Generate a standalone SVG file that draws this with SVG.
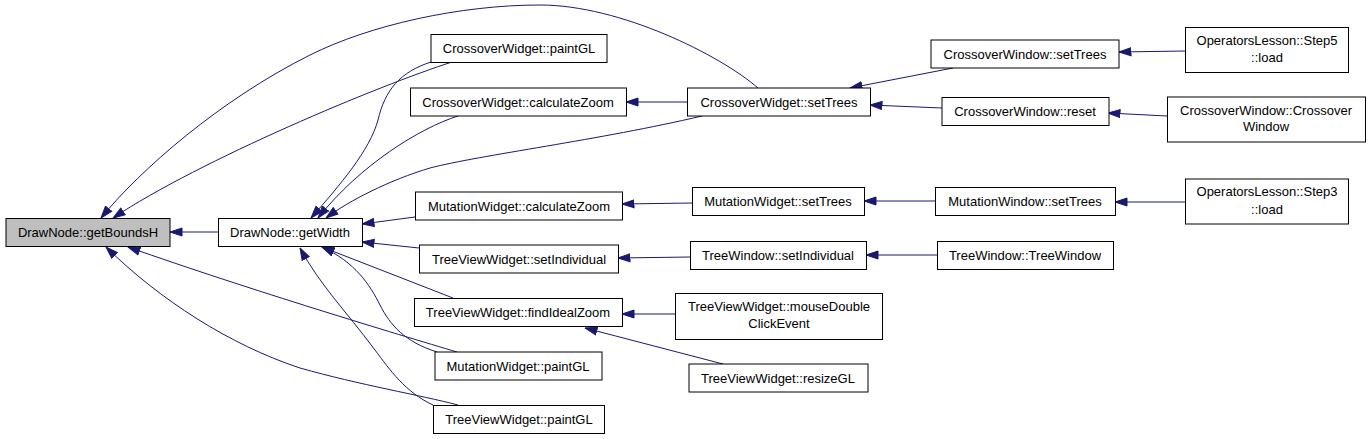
<svg xmlns="http://www.w3.org/2000/svg" width="1371" height="439" viewBox="0 0 1371 439">
<defs>
<marker id="ah" markerUnits="userSpaceOnUse" markerWidth="13" markerHeight="10" viewBox="0 0 13 10" refX="12.5" refY="5" orient="auto">
<path d="M0.5,1 L12.5,5 L0.5,9 z" fill="#191970" stroke="#191970" stroke-width="1"/>
</marker>
<style>
.n rect{fill:#fff;stroke:#000;stroke-width:1}
.n.root rect{fill:#bfbfbf}
.n text{font-family:"Liberation Sans",Arial,sans-serif;font-size:13px;fill:#000;text-anchor:middle}
#edges path{fill:none;stroke:#191970;stroke-width:1;marker-end:url(#ah)}
</style>
</defs>
<rect width="1371" height="439" fill="#fff"/>
<g id="edges">
<path d="M218,232 L170,232"/>
<path d="M758,88 C720,55 620,5 540,5 C460,5 370,25 310,55 C220,100 140,170 101,218"/>
<path d="M452,62 C380,85 200,160 113,218"/>
<path d="M431,62 C400,72 385,90 378,120 C370,150 340,185 311,218"/>
<path d="M458,116 C420,128 360,165 318,218"/>
<path d="M702,116 C600,140 480,155 430,168 C390,180 350,200 326,218"/>
<path d="M415,217 L362,224"/>
<path d="M419,248 L362,242"/>
<path d="M453,298 L322,247"/>
<path d="M437,352 C405,342 390,325 380,305 C370,285 355,262 322,247"/>
<path d="M433,405 C405,392 390,370 375,350 C345,310 320,285 300,248"/>
<path d="M457,352 C400,335 250,290 128,247"/>
<path d="M458,405 C420,395 360,385 300,368 C230,345 160,300 106,247"/>
<path d="M687,102 L626,102"/>
<path d="M953,68 L850,88"/>
<path d="M942,108 L870,105"/>
<path d="M692,203 L622,204"/>
<path d="M935,201 L864,201"/>
<path d="M690,257 L618,258"/>
<path d="M937,255 L866,255"/>
<path d="M675,314 L622,314"/>
<path d="M723,364 L585,328"/>
<path d="M1185,51 L1119,52"/>
<path d="M1167,116 L1108,113"/>
<path d="M1185,202 L1115,202"/>
</g>
<g id="n_getBoundsH" class="n root"><rect x="6" y="218.5" width="164" height="28"/><text x="88" y="237">DrawNode::getBoundsH</text></g>
<g id="n_getWidth" class="n"><rect x="218.5" y="218.5" width="144" height="28"/><text x="290" y="237">DrawNode::getWidth</text></g>
<g id="n_cw_paintGL" class="n"><rect x="431" y="34.5" width="176" height="28"/><text x="519" y="53">CrossoverWidget::paintGL</text></g>
<g id="n_cw_calcZoom" class="n"><rect x="410.5" y="88" width="216" height="28"/><text x="518" y="106.5">CrossoverWidget::calculateZoom</text></g>
<g id="n_cw_setTrees" class="n"><rect x="687.5" y="88" width="183" height="28"/><text x="779" y="106.5">CrossoverWidget::setTrees</text></g>
<g id="n_mw_calcZoom" class="n"><rect x="415.5" y="192" width="207" height="28"/><text x="519" y="210.5">MutationWidget::calculateZoom</text></g>
<g id="n_mw_setTrees" class="n"><rect x="692.5" y="187.5" width="172" height="28"/><text x="778" y="206">MutationWidget::setTrees</text></g>
<g id="n_tvw_setInd" class="n"><rect x="419.5" y="245" width="199" height="28"/><text x="519" y="263.5">TreeViewWidget::setIndividual</text></g>
<g id="n_tw_setInd" class="n"><rect x="690.5" y="241.5" width="176" height="28"/><text x="778" y="260">TreeWindow::setIndividual</text></g>
<g id="n_tvw_findZoom" class="n"><rect x="414.5" y="298.5" width="208" height="28"/><text x="518" y="317">TreeViewWidget::findIdealZoom</text></g>
<g id="n_tvw_mouse" class="n"><rect x="675.5" y="293.5" width="207" height="46"/><text x="779" y="311">TreeViewWidget::mouseDouble</text><text x="779" y="328">ClickEvent</text></g>
<g id="n_mw_paintGL" class="n"><rect x="435" y="352" width="167" height="28"/><text x="518" y="370.5">MutationWidget::paintGL</text></g>
<g id="n_tvw_resize" class="n"><rect x="689" y="364" width="179" height="28"/><text x="778" y="382.5">TreeViewWidget::resizeGL</text></g>
<g id="n_tvw_paintGL" class="n"><rect x="433.5" y="405.5" width="171" height="28"/><text x="519" y="424">TreeViewWidget::paintGL</text></g>
<g id="n_cwin_setTrees" class="n"><rect x="931" y="40" width="188" height="28"/><text x="1025" y="58.5">CrossoverWindow::setTrees</text></g>
<g id="n_step5" class="n"><rect x="1185.5" y="27.5" width="163" height="45"/><text x="1267" y="44.5">OperatorsLesson::Step5</text><text x="1267" y="62">::load</text></g>
<g id="n_cwin_reset" class="n"><rect x="942" y="97.5" width="167" height="28"/><text x="1025" y="116">CrossoverWindow::reset</text></g>
<g id="n_cwin_ctor" class="n"><rect x="1167.5" y="97" width="198" height="45"/><text x="1266" y="114.5">CrossoverWindow::Crossover</text><text x="1266" y="131">Window</text></g>
<g id="n_mwin_setTrees" class="n"><rect x="935.5" y="187.5" width="180" height="28"/><text x="1025" y="206">MutationWindow::setTrees</text></g>
<g id="n_step3" class="n"><rect x="1185.5" y="179" width="163" height="45"/><text x="1267" y="196">OperatorsLesson::Step3</text><text x="1267" y="213.5">::load</text></g>
<g id="n_tw_ctor" class="n"><rect x="937.5" y="241.5" width="176" height="28"/><text x="1025" y="260">TreeWindow::TreeWindow</text></g>
</svg>
